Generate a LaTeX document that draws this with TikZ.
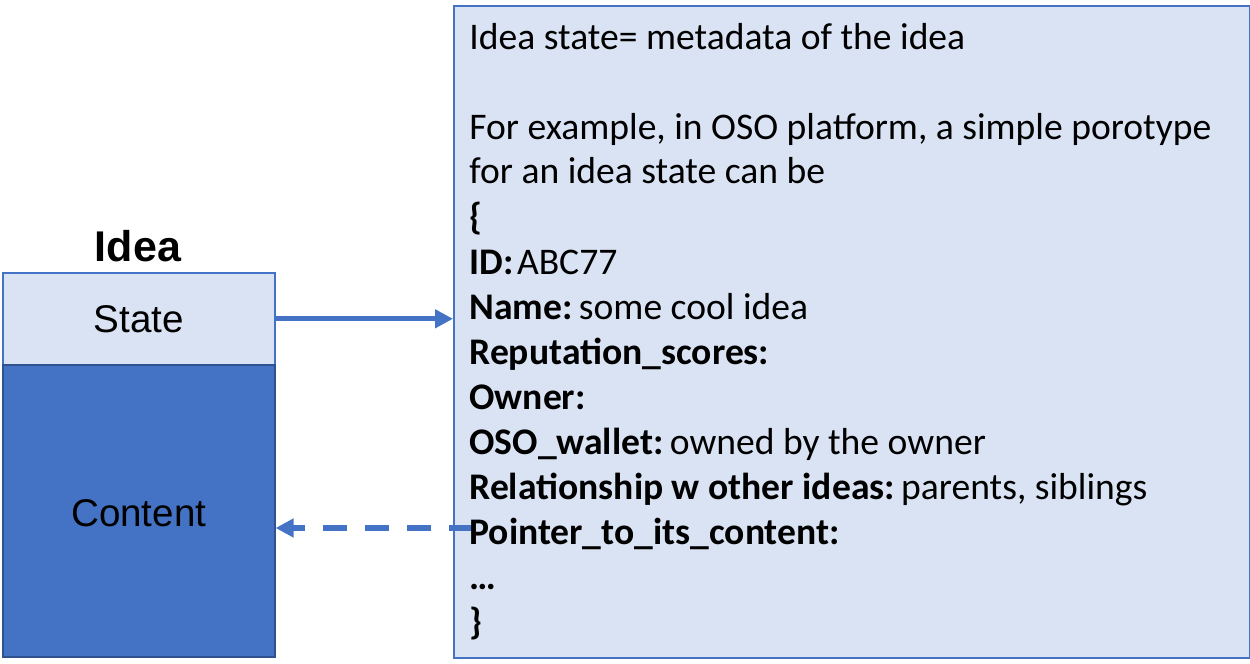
\documentclass[tikz,border=0pt]{standalone}
\usepackage{fontspec}
\setmainfont{Carlito}
\newfontfamily\helv{Liberation Sans}
\usetikzlibrary{arrows.meta}
\definecolor{lightfill}{HTML}{DAE3F3}
\definecolor{accent}{HTML}{4472C4}
\definecolor{darkedge}{HTML}{2F528F}
\newcommand{\keylbl}[1]{\textbf{#1}\kern-2.5pt\relax}
\tikzset{
  lightbox/.style={draw=accent, fill=lightfill, line width=0.8pt},
  contentbox/.style={draw=darkedge, fill=accent, line width=0.8pt},
  arr/.style={draw=accent, line width=2.6pt, -{Triangle[length=9pt,width=9pt]}},
  txt/.style={anchor=base west, inner sep=0pt, font=\fontsize{18.8}{22.5}\selectfont},
  lefttxt/.style={inner sep=0pt, font=\helv\fontsize{19.3}{21}\selectfont}
}
\begin{document}
\begin{tikzpicture}[x=0.5pt,y=-0.5pt]
\useasboundingbox (0,0) rectangle (1250,664);
\node[lightbox, minimum width=272*0.5pt, minimum height=92*0.5pt, inner sep=0pt, anchor=north west] (state) at (2,272) {};
\node[contentbox, minimum width=272*0.5pt, minimum height=292*0.5pt, inner sep=0pt, anchor=north west] (content) at (2,364) {};
\node[lefttxt] (statelbl) at (state.center) {State};
\node[lefttxt] (contentlbl) at ([yshift=-1pt]content.center) {Content};
\node[inner sep=0pt, anchor=base, font=\helv\bfseries\fontsize{21.5}{23}\selectfont] (idealbl) at (138,261) {Idea};
\node[lightbox, minimum width=796*0.5pt, minimum height=652*0.5pt, inner sep=0pt, anchor=north west] (meta) at (453,5) {};
\node[txt] (l1) at (469,49) {Idea state= metadata of the idea};
\node[txt] (l3) at (469,139) {For example, in OSO platform, a simple porotype};
\node[txt] (l4) at (469,184) {for an idea state can be};
\node[txt] (l5) at (469,229) {\bfseries \{};
\node[txt] (l6) at (469,274) {\keylbl{ID:} ABC77};
\node[txt] (l7) at (469,319) {\keylbl{Name:} some cool idea};
\node[txt] (l8) at (469,364) {\textbf{Reputation\_scores:}};
\node[txt] (l9) at (469,409) {\textbf{Owner:}};
\node[txt] (l10) at (469,454) {\keylbl{OSO\_wallet:} owned by the owner};
\node[txt] (l11) at (469,499) {\keylbl{Relationship w other ideas:} parents, siblings};
\coordinate (dashstart) at (473,528);
\draw[arr] (state.east) -- (state.east -| meta.west);
\draw[arr, dash pattern=on 12pt off 9pt] (dashstart) -- (dashstart -| content.east);
\node[txt] (l12) at (469,544) {\textbf{Pointer\_to\_its\_content:}};
\node[txt] (l13) at (469,589) {\bfseries …};
\node[txt] (l14) at (469,634) {\bfseries \}};
\end{tikzpicture}
\end{document}
